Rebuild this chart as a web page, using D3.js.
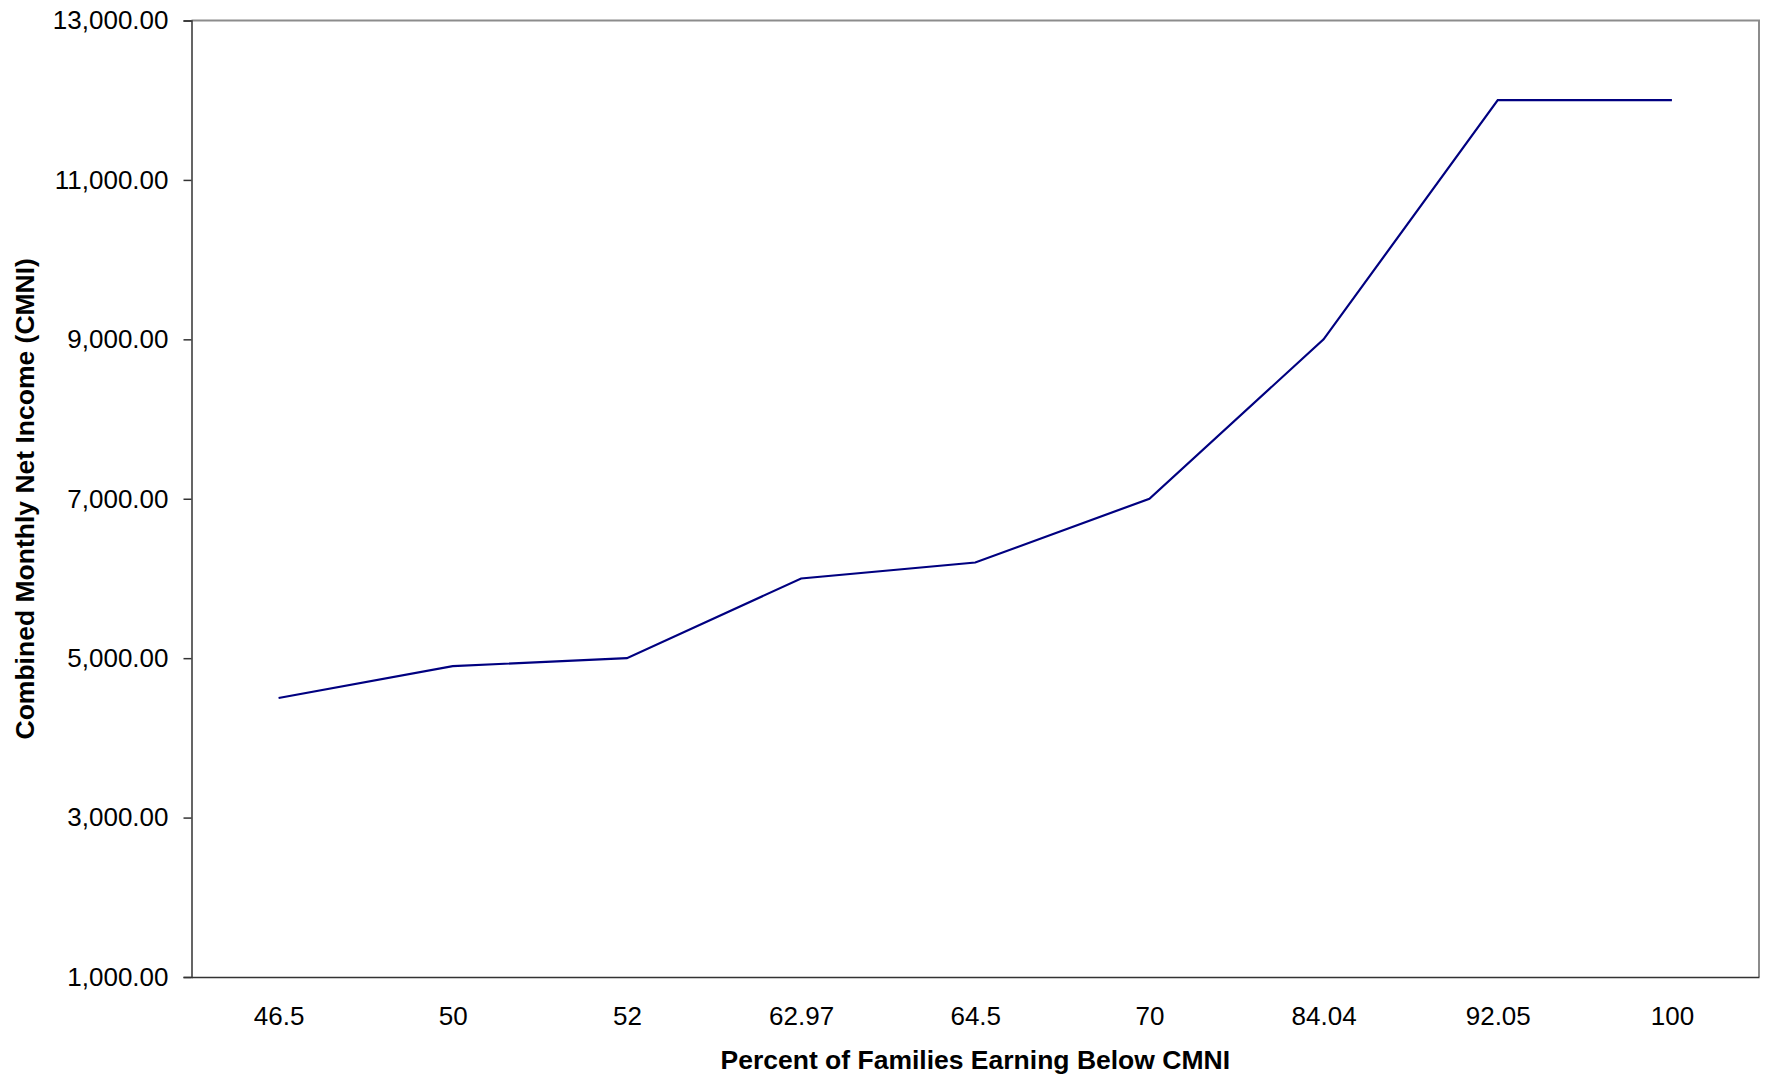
<!DOCTYPE html>
<html>
<head>
<meta charset="utf-8">
<script src="https://cdn.jsdelivr.net/npm/d3@7"></script>
<style>
html,body{margin:0;padding:0;background:#fff;}
svg{display:block;}
text{font-family:"Liberation Sans",Arial,sans-serif;fill:#000;}
</style>
</head>
<body>
<svg id="chart" width="1765" height="1080"></svg>
<script>
const categories = ["46.5","50","52","62.97","64.5","70","84.04","92.05","100"];
const cmniValues = [4500,4900,5000,6000,6200,7000,9000,12000,12000];
const yTicks = [1000,3000,5000,7000,9000,11000,13000];
const xTitle = "Percent of Families Earning Below CMNI";
const yTitle = "Combined Monthly Net Income (CMNI)";

const svg = d3.select("#chart");
const L = 191.5, T = 20.5, R = 1759, B = 977;

const x = d3.scalePoint().domain(categories).range([L, R]).padding(0.5);
const y = d3.scaleLinear().domain([1000,13000]).range([B, T]);

// plot frame top/right (gray)
svg.append("path")
  .attr("d", `M${L},${T}H${R}V${B}`)
  .attr("fill","none").attr("stroke","#8c8c8c").attr("stroke-width",2);

// y axis
const yAxis = d3.axisLeft(y).tickValues(yTicks).tickSize(8).tickPadding(15)
  .tickFormat(d3.format(",.2f"));
const gy = svg.append("g").attr("transform",`translate(${L},0)`).call(yAxis);
gy.select(".domain").attr("stroke","#333").attr("stroke-width",1.5);
gy.selectAll(".tick line").attr("stroke","#333").attr("stroke-width",1.5);
gy.selectAll(".tick text").attr("font-size",26).attr("font-family","'Liberation Sans',Arial,sans-serif").attr("fill","#000");

// x axis
const xAxis = d3.axisBottom(x).tickSize(0).tickPadding(30);
const gx = svg.append("g").attr("transform",`translate(0,${B})`).call(xAxis);
gx.select(".domain").attr("stroke","#333").attr("stroke-width",1.5);
gx.selectAll(".tick text").attr("font-size",26).attr("font-family","'Liberation Sans',Arial,sans-serif").attr("fill","#000");

// line
const line = d3.line().x((d,i)=>x(categories[i])).y(d=>y(d));
svg.append("path").datum(cmniValues)
  .attr("d", line).attr("fill","none")
  .attr("stroke","#000080").attr("stroke-width",2.2);

// titles
svg.append("text").attr("x",(L+R)/2).attr("y",1069)
  .attr("text-anchor","middle").attr("font-size",26.5).attr("font-weight","bold")
  .text(xTitle);
svg.append("text")
  .attr("transform",`translate(34,${(T+B)/2}) rotate(-90)`)
  .attr("text-anchor","middle").attr("font-size",26.5).attr("font-weight","bold")
  .text(yTitle);
</script>
</body>
</html>
